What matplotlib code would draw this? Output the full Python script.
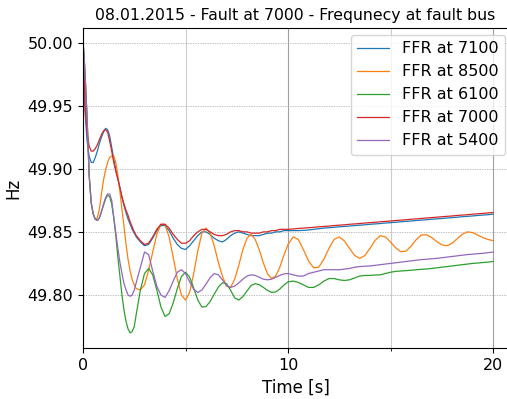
import matplotlib
matplotlib.use("Agg")
import matplotlib.pyplot as plt
from matplotlib.ticker import MultipleLocator

# time axis [s]
t = [0, 0.05, 0.1, 0.2, 0.3, 0.4, 0.5, 0.6, 0.7, 0.8, 0.9, 1.0, 1.1, 1.2, 1.3, 1.4,
     1.5, 1.6, 1.7, 1.8, 1.9, 2.0, 2.1, 2.2, 2.3, 2.4, 2.5, 2.6,
     2.8, 3.0, 3.2, 3.4, 3.6, 3.8, 4.0, 4.2, 4.4, 4.6, 4.8, 5.0, 5.2, 5.4, 5.6, 5.8,
     6.0, 6.2, 6.4, 6.6, 6.8, 7.0, 7.2, 7.4, 7.6, 7.8, 8.0, 8.2, 8.4, 8.6, 8.8, 9.0,
     9.2, 9.4, 9.6, 9.8, 10.0,
     10.25, 10.5, 10.75, 11.0, 11.25, 11.5, 11.75, 12.0, 12.25, 12.5, 12.75, 13.0,
     13.25, 13.5, 13.75, 14.0, 14.25, 14.5, 14.75, 15.0, 15.25, 15.5, 15.75, 16.0,
     16.25, 16.5, 16.75, 17.0, 17.25, 17.5, 17.75, 18.0, 18.25, 18.5, 18.75, 19.0,
     19.25, 19.5, 19.75, 20.0]

f_7100 = [50.0, 49.972, 49.945, 49.922, 49.910, 49.905, 49.905, 49.909, 49.914, 49.920,
          49.925, 49.929, 49.932, 49.931, 49.926, 49.917, 49.908, 49.899, 49.892, 49.885,
          49.877, 49.871, 49.865, 49.860, 49.856, 49.852, 49.849, 49.846,
          49.842, 49.839, 49.840, 49.845, 49.851, 49.855, 49.855, 49.851, 49.845, 49.840,
          49.837, 49.836, 49.839, 49.843, 49.847, 49.850, 49.850, 49.848, 49.845, 49.843,
          49.842, 49.844, 49.847, 49.849, 49.850, 49.849, 49.848, 49.847, 49.847, 49.847,
          49.848, 49.849, 49.849, 49.850, 49.850, 49.851, 49.851,
          49.851, 49.851, 49.8512, 49.8515, 49.852, 49.8525, 49.853, 49.8533, 49.8536,
          49.854, 49.8543, 49.8546, 49.855, 49.8553, 49.8556, 49.856, 49.8563, 49.8566,
          49.857, 49.8573, 49.8576, 49.858, 49.8583, 49.8586, 49.859, 49.8593, 49.8596,
          49.860, 49.8603, 49.8606, 49.861, 49.8613, 49.8616, 49.862, 49.8623, 49.8626,
          49.863, 49.8633, 49.8636, 49.864]

f_8500 = [50.0, 49.99, 49.975, 49.94, 49.895, 49.873, 49.864, 49.860, 49.861, 49.868,
          49.880, 49.891, 49.899, 49.905, 49.909, 49.910, 49.910, 49.905, 49.895, 49.882,
          49.868, 49.854, 49.840, 49.828, 49.819, 49.812, 49.808, 49.805,
          49.804, 49.808, 49.8195, 49.834, 49.848, 49.856, 49.856, 49.846, 49.830, 49.813,
          49.800, 49.796, 49.802, 49.817, 49.835, 49.849, 49.853, 49.849, 49.839, 49.826,
          49.815, 49.807, 49.806, 49.8125, 49.8236, 49.836, 49.845, 49.848, 49.844, 49.8357,
          49.8253, 49.8167, 49.813, 49.815, 49.822, 49.8314, 49.840,
          49.846, 49.844, 49.836, 49.827, 49.8215, 49.822, 49.8283, 49.837, 49.844,
          49.846, 49.8428, 49.8369, 49.8313, 49.829, 49.8313, 49.837, 49.8433, 49.847,
          49.846, 49.842, 49.8374, 49.8343, 49.8347, 49.8386, 49.8438, 49.8475, 49.8477,
          49.8456, 49.8424, 49.8397, 49.839, 49.8409, 49.8445, 49.8481, 49.850, 49.8495,
          49.8475, 49.8455, 49.844, 49.843]

f_6100 = [50.0, 49.99, 49.975, 49.94, 49.895, 49.873, 49.864, 49.860, 49.859, 49.861,
          49.866, 49.871, 49.876, 49.879, 49.878, 49.872, 49.861, 49.847, 49.830, 49.815,
          49.800, 49.788, 49.779, 49.773, 49.770, 49.771, 49.775, 49.785,
          49.804, 49.817, 49.821, 49.816, 49.804, 49.7906, 49.783, 49.785, 49.7937, 49.805,
          49.8146, 49.818, 49.8142, 49.8055, 49.796, 49.7904, 49.7908, 49.7948, 49.8006, 49.8062,
          49.8097, 49.809, 49.8037, 49.7977, 49.796, 49.7987, 49.8032, 49.8075, 49.809, 49.8081,
          49.806, 49.8036, 49.8021, 49.8024, 49.8047, 49.8079, 49.8104,
          49.811, 49.810, 49.808, 49.806, 49.806, 49.808, 49.811, 49.813, 49.813,
          49.812, 49.8115, 49.812, 49.8135, 49.815, 49.8155, 49.8155, 49.8158, 49.816,
          49.817, 49.818, 49.8187, 49.819, 49.8193, 49.8196, 49.820, 49.8203, 49.8206,
          49.821, 49.8215, 49.822, 49.8225, 49.823, 49.8235, 49.824, 49.8245, 49.825,
          49.8253, 49.8257, 49.826, 49.8266]

f_7000 = [50.0, 49.975, 49.950, 49.928, 49.918, 49.914, 49.914, 49.916, 49.919, 49.923,
          49.927, 49.930, 49.931, 49.929, 49.922, 49.914, 49.905, 49.898, 49.892, 49.885,
          49.878, 49.872, 49.867, 49.863, 49.858, 49.854, 49.850, 49.847,
          49.843, 49.840, 49.841, 49.846, 49.852, 49.856, 49.856, 49.853, 49.848, 49.844,
          49.841, 49.841, 49.843, 49.847, 49.850, 49.852, 49.852, 49.850, 49.848, 49.847,
          49.847, 49.848, 49.850, 49.851, 49.851, 49.850, 49.850, 49.849, 49.849, 49.849,
          49.850, 49.850, 49.851, 49.851, 49.852, 49.852, 49.852,
          49.8523, 49.8527, 49.853, 49.8533, 49.8536, 49.854, 49.8543, 49.8546, 49.855,
          49.8553, 49.8556, 49.856, 49.8563, 49.8566, 49.857, 49.8573, 49.8576, 49.858,
          49.8583, 49.8586, 49.859, 49.8593, 49.8596, 49.860, 49.8603, 49.8606, 49.861,
          49.8613, 49.8616, 49.862, 49.8623, 49.8626, 49.863, 49.8633, 49.8636, 49.864,
          49.8643, 49.8646, 49.865, 49.8653]

f_5400 = [50.0, 49.99, 49.975, 49.94, 49.895, 49.873, 49.864, 49.860, 49.859, 49.861,
          49.866, 49.872, 49.877, 49.880, 49.880, 49.875, 49.862, 49.849, 49.837, 49.826,
          49.817, 49.809, 49.804, 49.800, 49.799, 49.800, 49.804, 49.810,
          49.822, 49.834, 49.832, 49.819, 49.807, 49.800, 49.798, 49.8034, 49.811, 49.818,
          49.820, 49.817, 49.8105, 49.8045, 49.802, 49.804, 49.8086, 49.8137, 49.817, 49.816,
          49.812, 49.8075, 49.806, 49.807, 49.8096, 49.8125, 49.815, 49.816, 49.8155, 49.814,
          49.8125, 49.812, 49.8125, 49.814, 49.8155, 49.8167, 49.817,
          49.816, 49.815, 49.815, 49.817, 49.818, 49.819, 49.820, 49.820, 49.820,
          49.820, 49.8205, 49.821, 49.822, 49.8225, 49.8228, 49.823, 49.8235, 49.824,
          49.8245, 49.825, 49.8255, 49.826, 49.8265, 49.827, 49.8275, 49.828, 49.8283,
          49.8287, 49.829, 49.8295, 49.830, 49.8305, 49.831, 49.8315, 49.832, 49.8323,
          49.8327, 49.833, 49.8335, 49.834]

series = [(f_7100, 'FFR at 7100'), (f_8500, 'FFR at 8500'), (f_6100, 'FFR at 6100'),
          (f_7000, 'FFR at 7000'), (f_5400, 'FFR at 5400')]

fig = plt.figure(figsize=(5.07, 3.99), dpi=100)
ax = fig.add_axes([83 / 507, 51 / 399, 425 / 507, 320 / 399])

for f, lab in series:
    ax.plot(t, f, lw=0.9, label=lab)

ax.set_xlim(0, 425 / 20.5)
ax.set_ylim(49.758, 50.0115)
ax.xaxis.set_major_locator(MultipleLocator(10))
ax.xaxis.set_minor_locator(MultipleLocator(5))
ax.yaxis.set_major_locator(MultipleLocator(0.05))
ax.yaxis.set_major_formatter(matplotlib.ticker.FormatStrFormatter('%.2f'))

ax.grid(axis='y', which='major', ls=(0, (2, 1.5)), color='#a8a8a8', lw=0.5)
ax.grid(axis='x', which='major', ls='-', color='#a0a0a0', lw=0.8)
ax.grid(axis='x', which='minor', ls='-', color='#cccccc', lw=0.8)

ax.tick_params(labelsize=11.5)
ax.set_xlabel('Time [s]', fontsize=12)
ax.set_ylabel('Hz', fontsize=12)
ax.set_title('08.01.2015 - Fault at 7000 - Frequnecy at fault bus', fontsize=11.3)

ax.legend(loc='upper right', bbox_to_anchor=(505 / 507, 1 - 35 / 399),
          bbox_transform=fig.transFigure, borderaxespad=0, fontsize=11.5)

fig.savefig('out.png', dpi=100)
